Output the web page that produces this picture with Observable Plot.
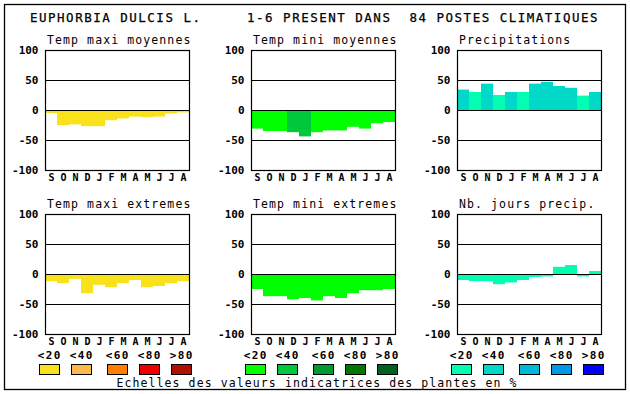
<!DOCTYPE html>
<html>
<head>
<meta charset="utf-8">
<script src="https://cdn.jsdelivr.net/npm/d3@7"></script>
<script src="https://cdn.jsdelivr.net/npm/@observablehq/plot@0.6"></script>
<style>
  html, body { margin: 0; padding: 0; background: white; }
  #wrap { position: relative; width: 630px; height: 394px; background: white; overflow: hidden; }
  #wrap .panel { position: absolute; }
  #overlay { position: absolute; left: 0; top: 0; pointer-events: none; }
</style>
</head>
<body>
<div id="wrap"></div>
<script>
// ---------- data ----------
const months = ["S","O","N","D","J","F","M","A","M","J","J","A"];

const tmaxMoy    = [-5, -25, -24, -27, -27, -17, -14, -11, -12, -11, -6, -4];
const tmaxMoyCls = [0,0,0,0,0,0,0,0,0,0,0,0];

const tminMoy    = [-31, -35, -35, -37, -44, -37, -34, -34, -28, -31, -22, -20];
const tminMoyCls = [0,0,0,1,1,0,0,0,0,0,0,0];

const precip     = [34, 30, 44, 25, 30, 30, 44, 47, 40, 37, 24, 30];
const precipCls  = [1,0,1,0,1,0,1,1,1,1,0,1];

const tmaxExt    = [-12, -15, -8, -32, -18, -22, -15, -10, -22, -20, -15, -12];
const tmaxExtCls = [0,0,0,0,0,0,0,0,0,0,0,0];

const tminExt    = [-25, -37, -37, -42, -40, -44, -37, -40, -32, -27, -27, -25];
const tminExtCls = [0,0,0,0,0,0,0,0,0,0,0,0];

const nbJours    = [-10, -12, -12, -17, -14, -10, -5, -4, 12, 15, -4, 5];
const nbJoursCls = [0,0,0,0,0,0,0,0,0,0,0,0];

const panelTitles = ["Temp maxi moyennes","Temp mini moyennes","Precipitations",
                     "Temp maxi extremes","Temp mini extremes","Nb. jours precip."];
const yTicks = [-100, -50, 0, 50, 100];
const gridValues = [-50, 0, 50];
const legendLabels = ["<20","<40","<60","<80",">80"];

const warm  = ["#F9E21B","#FFB84D","#FF8000","#EE0000","#B01000"];
const green = ["#00FF00","#00C83C","#009A30","#007800","#006020"];
const blue  = ["#00FFB0","#00D8C8","#00B8D8","#0098E8","#0000FF"];

const mainTitle1 = "EUPHORBIA DULCIS L.";
const mainTitle2 = "1-6 PRESENT DANS  84 POSTES CLIMATIQUES";
const caption = "Echelles des valeurs indicatrices des plantes en %";

// ---------- layout ----------
const colLeft = [45, 251, 457];
const rowTop = [50, 214];
const PW = 144, PH = 120;
const ML = 42, MR = 4, MT = 4, MB = 16;

const panels = [
  {values: tmaxMoy, cls: tmaxMoyCls, pal: warm,  col: 0, row: 0},
  {values: tminMoy, cls: tminMoyCls, pal: green, col: 1, row: 0},
  {values: precip,  cls: precipCls,  pal: blue,  col: 2, row: 0},
  {values: tmaxExt, cls: tmaxExtCls, pal: warm,  col: 0, row: 1},
  {values: tminExt, cls: tminExtCls, pal: green, col: 1, row: 1},
  {values: nbJours, cls: nbJoursCls, pal: blue,  col: 2, row: 1}
];

const wrap = document.getElementById("wrap");

panels.forEach((p, k) => {
  const data = p.values.map((v, i) => ({i, v, c: p.pal[p.cls[i]]}));
  const chart = Plot.plot({
    width: ML + PW + MR,
    height: MT + PH + MB,
    marginLeft: ML, marginRight: MR, marginTop: MT, marginBottom: MB,
    style: {
      fontFamily: "'DejaVu Sans Mono', monospace",
      fontSize: "11px",
      fontWeight: "bold",
      background: "transparent",
      overflow: "visible",
      color: "black"
    },
    x: {type: "band", domain: d3.range(months.length), padding: 0, round: false,
        tickFormat: i => months[i], tickSize: 0, tickPadding: 3, label: null},
    y: {domain: [-100, 100], ticks: yTicks, tickFormat: d => String(d),
        tickSize: 0, tickPadding: 7, label: null},
    color: {type: "identity"},
    marks: [
      Plot.barY(data, {x: "i", y1: 0, y2: "v", fill: "c", inset: 0}),
      Plot.ruleY(gridValues, {stroke: "black", strokeWidth: 1.2}),
      Plot.frame({stroke: "black", strokeWidth: 1.2})
    ]
  });
  // slightly smaller month letters, as in the reference
  chart.querySelectorAll('[aria-label^="x-axis"] text').forEach(t => {
    t.setAttribute("font-size", "10px");
    t.style.fontSize = "10px";
  });
  const div = document.createElement("div");
  div.className = "panel";
  div.style.left = (colLeft[p.col] - ML) + "px";
  div.style.top = (rowTop[p.row] - MT) + "px";
  div.appendChild(chart);
  wrap.appendChild(div);
});

// ---------- overlay: titles, legend, caption ----------
const svg = d3.select(wrap).append("svg")
  .attr("id", "overlay")
  .attr("width", 630).attr("height", 394);

svg.append("rect")
  .attr("x", 4.5).attr("y", 4.5).attr("width", 621).attr("height", 385)
  .attr("fill", "none").attr("stroke", "black").attr("stroke-width", 1.3);

const mono = "'DejaVu Sans Mono', monospace";

svg.append("text").attr("x", 30).attr("y", 22)
  .attr("font-family", mono).attr("font-size", 12.5).attr("letter-spacing", "1.5px")
  .attr("fill", "black").attr("stroke", "black").attr("stroke-width", 0.25).text(mainTitle1);
svg.append("text").attr("x", 247).attr("y", 22)
  .attr("font-family", mono).attr("font-size", 12.5).attr("letter-spacing", "1.5px")
  .attr("fill", "black").attr("stroke", "black").attr("stroke-width", 0.25)
  .style("white-space", "pre").text(mainTitle2);

panels.forEach((p, k) => {
  svg.append("text")
    .attr("x", colLeft[p.col] + 2)
    .attr("y", rowTop[p.row] - 6.5)
    .attr("font-family", mono).attr("font-size", 11.5).attr("letter-spacing", "1.1px")
    .attr("fill", "black").text(panelTitles[k]);
});

const legendOffsets = [0, 32, 68, 100, 132];
const palettes = [warm, green, blue];
palettes.forEach((pal, g) => {
  const gx = colLeft[g] - 6;
  pal.forEach((c, j) => {
    const x = gx + legendOffsets[j];
    svg.append("rect")
      .attr("x", x + 0.5).attr("y", 364.5).attr("width", 20).attr("height", 10)
      .attr("fill", c).attr("stroke", "black").attr("stroke-width", 1);
    svg.append("text")
      .attr("x", x + 10.7).attr("y", 358.5)
      .attr("text-anchor", "middle")
      .attr("font-family", mono).attr("font-size", 11).attr("font-weight", "bold")
      .attr("letter-spacing", "1.4px")
      .attr("fill", "black").text(legendLabels[j]);
  });
});

svg.append("text").attr("x", 317).attr("y", 387)
  .attr("text-anchor", "middle")
  .attr("font-family", mono).attr("font-size", 11.5).attr("letter-spacing", "1.1px")
  .attr("fill", "black").text(caption);
</script>
</body>
</html>
